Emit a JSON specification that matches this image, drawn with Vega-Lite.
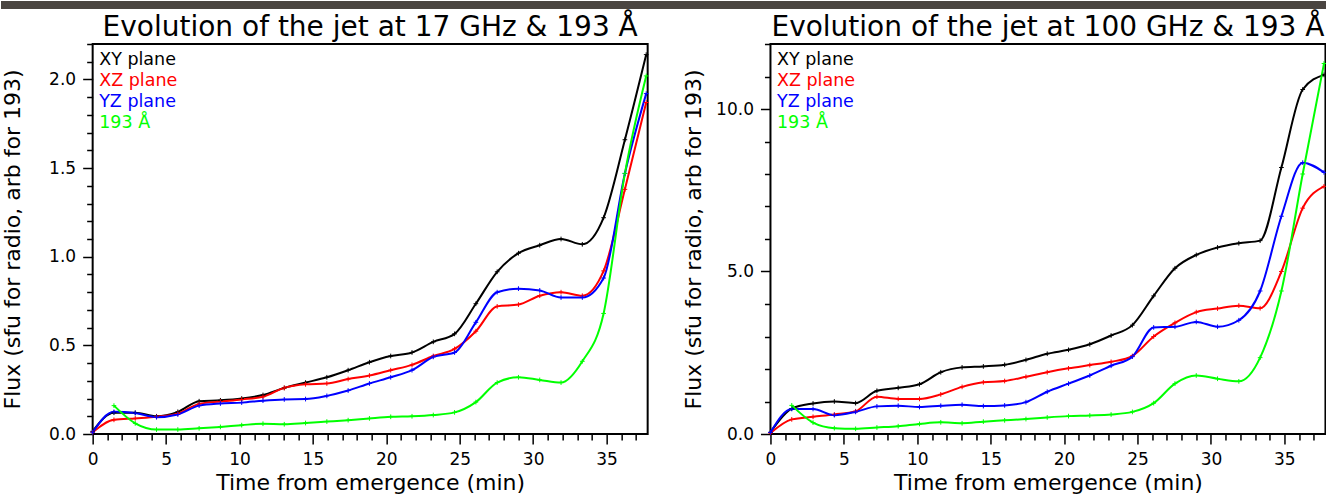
{
  "$schema": "https://vega.github.io/schema/vega-lite/v6.json",
  "background": "white",
  "padding": 0,
  "config": {
    "view": {"stroke": "black", "strokeWidth": 2},
    "font": "DejaVu Sans",
    "axis": {"grid": false, "domain": false, "tickColor": "black", "tickWidth": 1.5, "labelColor": "black", "titleColor": "black", "labelFont": "DejaVu Sans", "titleFont": "DejaVu Sans", "labelFontSize": 17, "titleFontSize": 22, "titleFontWeight": "normal", "labelFlush": false, "labelOverlap": false},
    "title": {"font": "DejaVu Sans", "fontSize": 28, "fontWeight": "normal", "color": "black", "frame": "group", "anchor": "middle", "baseline": "alphabetic", "offset": 1},
    "legend": {"orient": "top-left", "title": null, "symbolSize": 0, "symbolStrokeWidth": 0, "symbolOpacity": 0, "labelFont": "DejaVu Sans", "labelFontSize": 17.5, "labelOffset": -18, "rowPadding": 2, "offset": 7, "padding": 0, "labelLimit": 300}
  },
  "datasets": {
    "band": [{}],
    "left": [
      {"t":0,"s":"XY plane","f":0.015},{"t":1.45,"s":"XY plane","f":0.12},{"t":2.9,"s":"XY plane","f":0.12},{"t":4.35,"s":"XY plane","f":0.10},{"t":5.8,"s":"XY plane","f":0.125},{"t":7.25,"s":"XY plane","f":0.185},{"t":8.7,"s":"XY plane","f":0.19},{"t":10.15,"s":"XY plane","f":0.20},{"t":11.6,"s":"XY plane","f":0.22},{"t":13.05,"s":"XY plane","f":0.26},{"t":14.5,"s":"XY plane","f":0.29},{"t":15.95,"s":"XY plane","f":0.32},{"t":17.4,"s":"XY plane","f":0.36},{"t":18.85,"s":"XY plane","f":0.405},{"t":20.3,"s":"XY plane","f":0.44},{"t":21.75,"s":"XY plane","f":0.46},{"t":23.2,"s":"XY plane","f":0.52},{"t":24.65,"s":"XY plane","f":0.565},{"t":26.1,"s":"XY plane","f":0.735},{"t":27.55,"s":"XY plane","f":0.915},{"t":29.0,"s":"XY plane","f":1.02},{"t":30.45,"s":"XY plane","f":1.065},{"t":31.9,"s":"XY plane","f":1.10},{"t":33.35,"s":"XY plane","f":1.07},{"t":34.8,"s":"XY plane","f":1.22},{"t":36.25,"s":"XY plane","f":1.66},{"t":37.7,"s":"XY plane","f":2.14},
      {"t":0,"s":"XZ plane","f":0.01},{"t":1.45,"s":"XZ plane","f":0.08},{"t":2.9,"s":"XZ plane","f":0.088},{"t":4.35,"s":"XZ plane","f":0.097},{"t":5.8,"s":"XZ plane","f":0.115},{"t":7.25,"s":"XZ plane","f":0.17},{"t":8.7,"s":"XZ plane","f":0.183},{"t":10.15,"s":"XZ plane","f":0.195},{"t":11.6,"s":"XZ plane","f":0.21},{"t":13.05,"s":"XZ plane","f":0.26},{"t":14.5,"s":"XZ plane","f":0.28},{"t":15.95,"s":"XZ plane","f":0.285},{"t":17.4,"s":"XZ plane","f":0.31},{"t":18.85,"s":"XZ plane","f":0.33},{"t":20.3,"s":"XZ plane","f":0.36},{"t":21.75,"s":"XZ plane","f":0.39},{"t":23.2,"s":"XZ plane","f":0.44},{"t":24.65,"s":"XZ plane","f":0.48},{"t":26.1,"s":"XZ plane","f":0.58},{"t":27.55,"s":"XZ plane","f":0.72},{"t":29.0,"s":"XZ plane","f":0.73},{"t":30.45,"s":"XZ plane","f":0.78},{"t":31.9,"s":"XZ plane","f":0.80},{"t":33.35,"s":"XZ plane","f":0.78},{"t":34.8,"s":"XZ plane","f":0.92},{"t":36.25,"s":"XZ plane","f":1.38},{"t":37.7,"s":"XZ plane","f":1.87},
      {"t":0,"s":"YZ plane","f":0.01},{"t":1.45,"s":"YZ plane","f":0.125},{"t":2.9,"s":"YZ plane","f":0.118},{"t":4.35,"s":"YZ plane","f":0.095},{"t":5.8,"s":"YZ plane","f":0.11},{"t":7.25,"s":"YZ plane","f":0.16},{"t":8.7,"s":"YZ plane","f":0.172},{"t":10.15,"s":"YZ plane","f":0.177},{"t":11.6,"s":"YZ plane","f":0.188},{"t":13.05,"s":"YZ plane","f":0.195},{"t":14.5,"s":"YZ plane","f":0.197},{"t":15.95,"s":"YZ plane","f":0.215},{"t":17.4,"s":"YZ plane","f":0.245},{"t":18.85,"s":"YZ plane","f":0.285},{"t":20.3,"s":"YZ plane","f":0.32},{"t":21.75,"s":"YZ plane","f":0.36},{"t":23.2,"s":"YZ plane","f":0.435},{"t":24.65,"s":"YZ plane","f":0.46},{"t":26.1,"s":"YZ plane","f":0.63},{"t":27.55,"s":"YZ plane","f":0.80},{"t":29.0,"s":"YZ plane","f":0.82},{"t":30.45,"s":"YZ plane","f":0.81},{"t":31.9,"s":"YZ plane","f":0.77},{"t":33.35,"s":"YZ plane","f":0.77},{"t":34.8,"s":"YZ plane","f":0.88},{"t":36.25,"s":"YZ plane","f":1.47},{"t":37.7,"s":"YZ plane","f":1.92},
      {"t":1.45,"s":"193 Å","f":0.16},{"t":2.9,"s":"193 Å","f":0.06},{"t":4.35,"s":"193 Å","f":0.025},{"t":5.8,"s":"193 Å","f":0.025},{"t":7.25,"s":"193 Å","f":0.032},{"t":8.7,"s":"193 Å","f":0.04},{"t":10.15,"s":"193 Å","f":0.05},{"t":11.6,"s":"193 Å","f":0.058},{"t":13.05,"s":"193 Å","f":0.055},{"t":14.5,"s":"193 Å","f":0.062},{"t":15.95,"s":"193 Å","f":0.07},{"t":17.4,"s":"193 Å","f":0.078},{"t":18.85,"s":"193 Å","f":0.088},{"t":20.3,"s":"193 Å","f":0.097},{"t":21.75,"s":"193 Å","f":0.10},{"t":23.2,"s":"193 Å","f":0.107},{"t":24.65,"s":"193 Å","f":0.122},{"t":26.1,"s":"193 Å","f":0.18},{"t":27.55,"s":"193 Å","f":0.29},{"t":29.0,"s":"193 Å","f":0.32},{"t":30.45,"s":"193 Å","f":0.305},{"t":31.9,"s":"193 Å","f":0.29},{"t":33.35,"s":"193 Å","f":0.41},{"t":34.8,"s":"193 Å","f":0.68},{"t":36.25,"s":"193 Å","f":1.47},{"t":37.7,"s":"193 Å","f":2.02}
    ],
    "right": [
      {"t":0,"s":"XY plane","f":0.05},{"t":1.45,"s":"XY plane","f":0.78},{"t":2.9,"s":"XY plane","f":0.94},{"t":4.35,"s":"XY plane","f":1.0},{"t":5.8,"s":"XY plane","f":0.95},{"t":7.25,"s":"XY plane","f":1.33},{"t":8.7,"s":"XY plane","f":1.42},{"t":10.15,"s":"XY plane","f":1.53},{"t":11.6,"s":"XY plane","f":1.9},{"t":13.05,"s":"XY plane","f":2.05},{"t":14.5,"s":"XY plane","f":2.08},{"t":15.95,"s":"XY plane","f":2.13},{"t":17.4,"s":"XY plane","f":2.28},{"t":18.85,"s":"XY plane","f":2.47},{"t":20.3,"s":"XY plane","f":2.59},{"t":21.75,"s":"XY plane","f":2.76},{"t":23.2,"s":"XY plane","f":3.03},{"t":24.65,"s":"XY plane","f":3.35},{"t":26.1,"s":"XY plane","f":4.25},{"t":27.55,"s":"XY plane","f":5.1},{"t":29.0,"s":"XY plane","f":5.51},{"t":30.45,"s":"XY plane","f":5.74},{"t":31.9,"s":"XY plane","f":5.87},{"t":33.35,"s":"XY plane","f":5.95},{"t":34.8,"s":"XY plane","f":8.2},{"t":36.25,"s":"XY plane","f":10.6},{"t":37.7,"s":"XY plane","f":11.05},
      {"t":0,"s":"XZ plane","f":0.03},{"t":1.45,"s":"XZ plane","f":0.45},{"t":2.9,"s":"XZ plane","f":0.53},{"t":4.35,"s":"XZ plane","f":0.6},{"t":5.8,"s":"XZ plane","f":0.7},{"t":7.25,"s":"XZ plane","f":1.15},{"t":8.7,"s":"XZ plane","f":1.08},{"t":10.15,"s":"XZ plane","f":1.08},{"t":11.6,"s":"XZ plane","f":1.22},{"t":13.05,"s":"XZ plane","f":1.45},{"t":14.5,"s":"XZ plane","f":1.59},{"t":15.95,"s":"XZ plane","f":1.63},{"t":17.4,"s":"XZ plane","f":1.76},{"t":18.85,"s":"XZ plane","f":1.9},{"t":20.3,"s":"XZ plane","f":2.02},{"t":21.75,"s":"XZ plane","f":2.12},{"t":23.2,"s":"XZ plane","f":2.22},{"t":24.65,"s":"XZ plane","f":2.4},{"t":26.1,"s":"XZ plane","f":3.0},{"t":27.55,"s":"XZ plane","f":3.42},{"t":29.0,"s":"XZ plane","f":3.75},{"t":30.45,"s":"XZ plane","f":3.86},{"t":31.9,"s":"XZ plane","f":3.95},{"t":33.35,"s":"XZ plane","f":3.87},{"t":34.8,"s":"XZ plane","f":5.0},{"t":36.25,"s":"XZ plane","f":6.95},{"t":37.7,"s":"XZ plane","f":7.62},
      {"t":0,"s":"YZ plane","f":0.05},{"t":1.45,"s":"YZ plane","f":0.77},{"t":2.9,"s":"YZ plane","f":0.77},{"t":4.35,"s":"YZ plane","f":0.58},{"t":5.8,"s":"YZ plane","f":0.68},{"t":7.25,"s":"YZ plane","f":0.85},{"t":8.7,"s":"YZ plane","f":0.87},{"t":10.15,"s":"YZ plane","f":0.83},{"t":11.6,"s":"YZ plane","f":0.87},{"t":13.05,"s":"YZ plane","f":0.9},{"t":14.5,"s":"YZ plane","f":0.86},{"t":15.95,"s":"YZ plane","f":0.88},{"t":17.4,"s":"YZ plane","f":0.98},{"t":18.85,"s":"YZ plane","f":1.3},{"t":20.3,"s":"YZ plane","f":1.55},{"t":21.75,"s":"YZ plane","f":1.8},{"t":23.2,"s":"YZ plane","f":2.1},{"t":24.65,"s":"YZ plane","f":2.38},{"t":26.1,"s":"YZ plane","f":3.28},{"t":27.55,"s":"YZ plane","f":3.3},{"t":29.0,"s":"YZ plane","f":3.45},{"t":30.45,"s":"YZ plane","f":3.3},{"t":31.9,"s":"YZ plane","f":3.5},{"t":33.35,"s":"YZ plane","f":4.4},{"t":34.8,"s":"YZ plane","f":6.7},{"t":36.25,"s":"YZ plane","f":8.35},{"t":37.7,"s":"YZ plane","f":8.05},
      {"t":1.45,"s":"193 Å","f":0.88},{"t":2.9,"s":"193 Å","f":0.35},{"t":4.35,"s":"193 Å","f":0.18},{"t":5.8,"s":"193 Å","f":0.16},{"t":7.25,"s":"193 Å","f":0.2},{"t":8.7,"s":"193 Å","f":0.24},{"t":10.15,"s":"193 Å","f":0.31},{"t":11.6,"s":"193 Å","f":0.36},{"t":13.05,"s":"193 Å","f":0.33},{"t":14.5,"s":"193 Å","f":0.38},{"t":15.95,"s":"193 Å","f":0.42},{"t":17.4,"s":"193 Å","f":0.46},{"t":18.85,"s":"193 Å","f":0.51},{"t":20.3,"s":"193 Å","f":0.55},{"t":21.75,"s":"193 Å","f":0.57},{"t":23.2,"s":"193 Å","f":0.6},{"t":24.65,"s":"193 Å","f":0.68},{"t":26.1,"s":"193 Å","f":0.95},{"t":27.55,"s":"193 Å","f":1.55},{"t":29.0,"s":"193 Å","f":1.8},{"t":30.45,"s":"193 Å","f":1.7},{"t":31.9,"s":"193 Å","f":1.62},{"t":33.35,"s":"193 Å","f":2.35},{"t":34.8,"s":"193 Å","f":4.4},{"t":36.25,"s":"193 Å","f":8.0},{"t":37.7,"s":"193 Å","f":11.4}
    ]
  },
  "columns": 1,
  "align": "each",
  "center": true,
  "spacing": 4,
  "concat": [
    {
      "width": 1420,
      "height": 8,
      "view": {"fill": "#4a4541", "stroke": null},
      "data": {"name": "band"},
      "mark": {"type": "rule", "opacity": 0},
      "encoding": {}
    },
    {
      "spacing": 28.8,
      "resolve": {"scale": {"color": "independent"}, "legend": {"color": "independent"}},
      "hconcat": [
        {
          "width": 555,
          "height": 390,
          "title": {"text": "Evolution of the jet at 17 GHz & 193 Å"},
          "data": {"name": "left"},
          "layer": [
            {
              "mark": {"type": "line", "interpolate": "monotone", "strokeWidth": 2},
              "encoding": {
                "x": {"field": "t", "type": "quantitative", "scale": {"domain": [0, 37.8], "nice": false, "zero": false},
                  "axis": {"orient": "bottom", "title": "Time from emergence (min)", "values": [0,5,10,15,20,25,30,35], "format": "d", "tickSize": 10, "labelPadding": 7, "titlePadding": 5}},
                "y": {"field": "f", "type": "quantitative", "scale": {"domain": [0, 2.2], "nice": false},
                  "axis": {"orient": "left", "title": "Flux (sfu for radio, arb for 193)", "values": [0,0.5,1,1.5,2], "format": ".1f", "tickSize": 10, "labelPadding": 7, "titlePadding": 23.7}},
                "color": {"field": "s", "type": "nominal",
                  "scale": {"domain": ["XY plane","XZ plane","YZ plane","193 Å"], "range": ["#000000","#ff0000","#0000ff","#00ff00"]},
                  "legend": {"encode": {"labels": {"update": {"fill": {"signal": "datum.value === 'XY plane' ? '#000000' : datum.value === 'XZ plane' ? '#ff0000' : datum.value === 'YZ plane' ? '#0000ff' : '#00ff00'"}}}}}}
              }
            },
            {
              "mark": {"type": "point", "shape": "M-1,0L1,0M0,-1L0,1", "size": 22, "strokeWidth": 1, "filled": false, "opacity": 1},
              "encoding": {
                "x": {"field": "t", "type": "quantitative",
                  "axis": {"orient": "bottom", "title": null, "labels": false, "values": [1,2,3,4,6,7,8,9,11,12,13,14,16,17,18,19,21,22,23,24,26,27,28,29,31,32,33,34,36,37], "tickSize": 6}},
                "y": {"field": "f", "type": "quantitative",
                  "axis": {"orient": "left", "title": null, "labels": false, "values": [0.1,0.2,0.3,0.4,0.6,0.7,0.8,0.9,1.1,1.2,1.3,1.4,1.6,1.7,1.8,1.9,2.1,2.2], "tickSize": 6}},
                "color": {"field": "s", "type": "nominal", "legend": null}
              }
            }
          ],
          "resolve": {"axis": {"x": "independent", "y": "independent"}}
        },
        {
          "width": 555,
          "height": 390,
          "title": {"text": "Evolution of the jet at 100 GHz & 193 Å"},
          "data": {"name": "right"},
          "layer": [
            {
              "mark": {"type": "line", "interpolate": "monotone", "strokeWidth": 2},
              "encoding": {
                "x": {"field": "t", "type": "quantitative", "scale": {"domain": [0, 37.8], "nice": false, "zero": false},
                  "axis": {"orient": "bottom", "title": "Time from emergence (min)", "values": [0,5,10,15,20,25,30,35], "format": "d", "tickSize": 10, "labelPadding": 7, "titlePadding": 5}},
                "y": {"field": "f", "type": "quantitative", "scale": {"domain": [0, 12], "nice": false},
                  "axis": {"orient": "left", "title": "Flux (sfu for radio, arb for 193)", "values": [0,5,10], "format": ".1f", "tickSize": 10, "labelPadding": 7, "titlePadding": 10.5}},
                "color": {"field": "s", "type": "nominal",
                  "scale": {"domain": ["XY plane","XZ plane","YZ plane","193 Å"], "range": ["#000000","#ff0000","#0000ff","#00ff00"]},
                  "legend": {"encode": {"labels": {"update": {"fill": {"signal": "datum.value === 'XY plane' ? '#000000' : datum.value === 'XZ plane' ? '#ff0000' : datum.value === 'YZ plane' ? '#0000ff' : '#00ff00'"}}}}}}
              }
            },
            {
              "mark": {"type": "point", "shape": "M-1,0L1,0M0,-1L0,1", "size": 22, "strokeWidth": 1, "filled": false, "opacity": 1},
              "encoding": {
                "x": {"field": "t", "type": "quantitative",
                  "axis": {"orient": "bottom", "title": null, "labels": false, "values": [1,2,3,4,6,7,8,9,11,12,13,14,16,17,18,19,21,22,23,24,26,27,28,29,31,32,33,34,36,37], "tickSize": 6}},
                "y": {"field": "f", "type": "quantitative",
                  "axis": {"orient": "left", "title": null, "labels": false, "values": [1,2,3,4,6,7,8,9,11,12], "tickSize": 6}},
                "color": {"field": "s", "type": "nominal", "legend": null}
              }
            }
          ],
          "resolve": {"axis": {"x": "independent", "y": "independent"}}
        }
      ]
    }
  ]
}
